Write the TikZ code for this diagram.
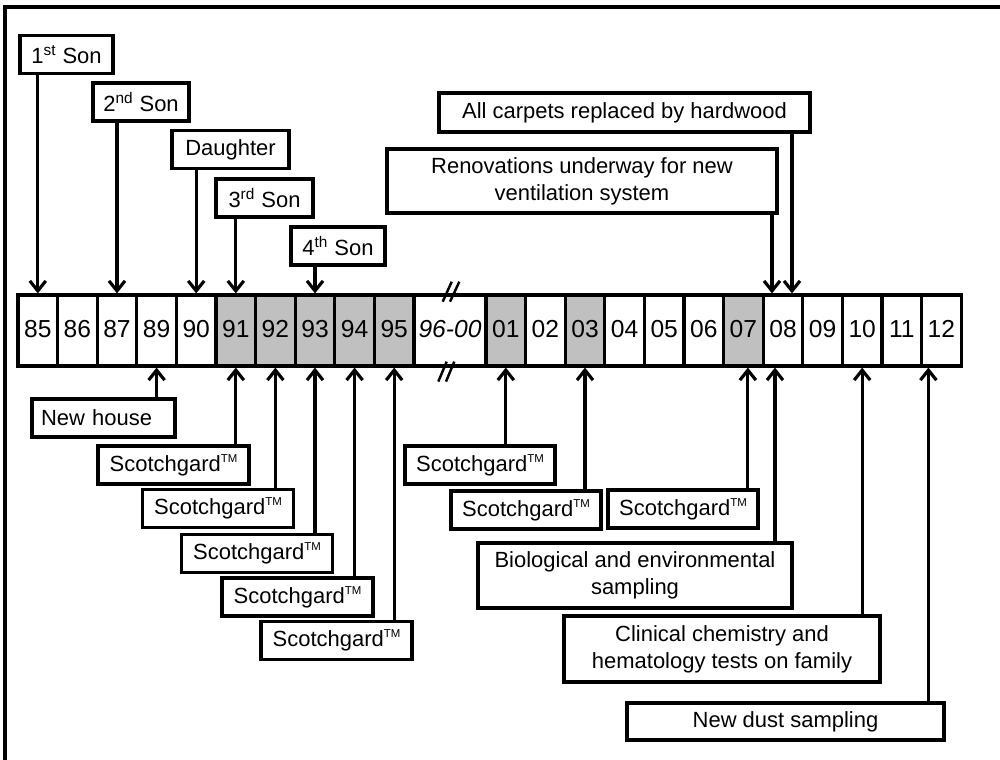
\documentclass[tikz,border=0pt]{standalone}
\usepackage{fontspec}
\setmainfont{Liberation Sans}
\usetikzlibrary{arrows.meta}

\definecolor{sprayed}{HTML}{C0C0C0}

\tikzset{
	yr/.style={draw, line width=1.8pt, minimum width=0.792cm, minimum height=1.42cm, inner sep=0pt, text height=1.4ex, text depth=0pt, font=\fontsize{14}{16}\selectfont},
	tag/.style={draw, line width=2pt, fill=white, align=center, minimum height=0.76cm, inner sep=0pt, font=\fontsize{12.5}{15.3}\selectfont},
	arr/.style={line width=1.8pt, -{Straight Barb[length=0.2cm, width=0.32cm, line width=1.8pt]}},
	brk/.style={line width=1.4pt}
}

\def\rowy{-6.61}
\def\scg{Scotchgard\raisebox{0.42em}{\fontsize{6.5}{6.5}\selectfont TM}}

\begin{document}
\begin{tikzpicture}
	
	\useasboundingbox (0,0) rectangle (20,-15.18);
	\draw[line width=2pt] (0.1,-15.3) -- (0.1,-0.14) -- (20.1,-0.14);
	
	% timeline
	\foreach \y/\c [count=\i from 0] in {85/white,86/white,87/white,89/white,90/white,91/sprayed,92/sprayed,93/sprayed,94/sprayed,95/sprayed}
		\node[yr, fill=\c] (c\y) at ({0.756+0.792*\i}, \rowy) {\y};
	\node[yr, minimum width=1.44cm] (c9600) at (9.0, \rowy) {\textit{96-00}};
	\foreach \y/\c [count=\i from 0] in {01/sprayed,02/white,03/sprayed,04/white,05/white,06/white,07/sprayed,08/white,09/white,10/white,11/white,12/white}
		\node[yr, fill=\c] (c\y) at ({10.116+0.792*\i}, \rowy) {\y};
	
	% break marks
	\draw[brk] ([shift={(-0.146,-0.166)}]c9600.north) -- ++(0.18,0.4);
	\draw[brk] ([shift={(0,-0.166)}]c9600.north) -- ++(0.186,0.4);
	\draw[brk] ([shift={(-0.234,-0.28)}]c9600.south) -- ++(0.168,0.4);
	\draw[brk] ([shift={(-0.08,-0.28)}]c9600.south) -- ++(0.166,0.4);
	
	% above the line
	\node[tag, minimum width=1.86cm] (son1) at (1.33,-1.09) {1\textsuperscript{st} Son};
	\node[tag, minimum width=1.92cm] (son2) at (2.82,-2.04) {2\textsuperscript{nd} Son};
	\node[tag, minimum width=2.34cm] (dtr) at (4.61,-2.99) {Daughter};
	\node[tag, minimum width=1.94cm] (son3) at (5.29,-3.96) {3\textsuperscript{rd} Son};
	\node[tag, minimum width=1.88cm] (son4) at (6.76,-4.92) {4\textsuperscript{th} Son};
	\node[tag, minimum width=7.42cm, minimum height=0.78cm] (carpet) at (12.49,-2.25) {All carpets replaced by hardwood};
	\node[tag, minimum width=7.8cm, minimum height=1.28cm] (reno) at (11.64,-3.62) {Renovations underway for new\\ventilation system};
	
	\coordinate (r08) at ([xshift=-0.22cm]c08.north);
	\coordinate (h08) at ([xshift=0.18cm]c08.north);
	\draw[arr] (son1.south -| c85) -- (c85.north);
	\draw[arr] (son2.south -| c87) -- (c87.north);
	\draw[arr] (dtr.south -| c90) -- (c90.north);
	\draw[arr] (son3.south -| c91) -- (c91.north);
	\draw[arr] (son4.south -| c93) -- (c93.north);
	\draw[arr] (reno.south -| r08) -- (r08);
	\draw[arr] (carpet.south -| h08) -- (h08);
	
	% below the line
	\node[tag, minimum width=2.86cm, text width=2.5cm, align=left] (house) at (2.07,-8.36) {New house};
	\node[tag, minimum width=3.02cm] (sg91) at (3.47,-9.30) {\scg};
	\node[tag, minimum width=3.02cm] (sg92) at (4.36,-10.17) {\scg};
	\node[tag, minimum width=3.02cm] (sg93) at (5.14,-11.07) {\scg};
	\node[tag, minimum width=3.02cm] (sg94) at (5.95,-11.94) {\scg};
	\node[tag, minimum width=3.02cm] (sg95) at (6.73,-12.81) {\scg};
	\node[tag, minimum width=3.0cm] (sg01) at (9.60,-9.30) {\scg};
	\node[tag, minimum width=3.0cm] (sg03) at (10.52,-10.20) {\scg};
	\node[tag, minimum width=3.0cm] (sg07) at (13.66,-10.18) {\scg};
	\node[tag, minimum width=6.28cm, minimum height=1.3cm] (bio) at (12.70,-11.51) {Biological and environmental\\sampling};
	\node[tag, minimum width=6.32cm, minimum height=1.32cm] (clin) at (14.44,-12.98) {Clinical chemistry and\\hematology tests on family};
	\node[tag, minimum width=6.34cm, minimum height=0.74cm] (dust) at (15.71,-14.43) {New dust sampling};
	
	\coordinate (s07) at ([xshift=0.09cm]c07.south);
	\coordinate (s08) at ([xshift=-0.16cm]c08.south);
	\coordinate (s12) at ([xshift=-0.26cm]c12.south);
	\draw[arr] (house.north -| c89) -- (c89.south);
	\draw[arr] (sg91.north -| c91) -- (c91.south);
	\draw[arr] (sg92.north -| c92) -- (c92.south);
	\draw[arr] (sg93.north -| c93) -- (c93.south);
	\draw[arr] (sg94.north -| c94) -- (c94.south);
	\draw[arr] (sg95.north -| c95) -- (c95.south);
	\draw[arr] (sg01.north -| c01) -- (c01.south);
	\draw[arr] (sg03.north -| c03) -- (c03.south);
	\draw[arr] (sg07.north -| s07) -- (s07);
	\draw[arr] (bio.north -| s08) -- (s08);
	\draw[arr] (clin.north -| c10) -- (c10.south);
	\draw[arr] (dust.north -| s12) -- (s12);
	
\end{tikzpicture}
\end{document}
